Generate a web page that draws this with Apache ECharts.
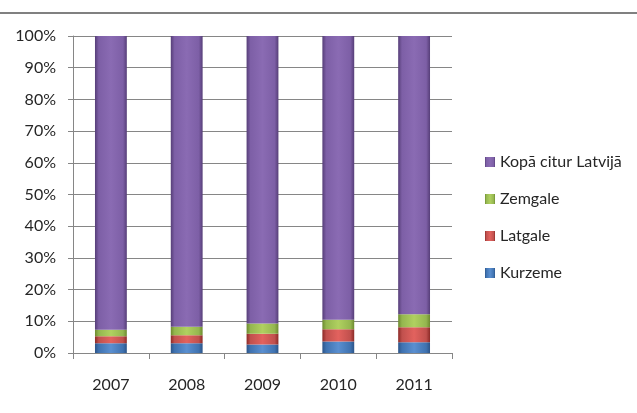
<!DOCTYPE html>
<html>
<head>
<meta charset="utf-8">
<script src="https://cdn.jsdelivr.net/npm/echarts@6/dist/echarts.min.js"></script>
<style>
    html, body {margin: 0; padding: 0; background: #fff;}
    #chart {width: 637px; height: 413px;}
</style>
</head>
<body>
<div id="chart"></div>
<script>
// data, shares in %
var years = ['2007', '2008', '2009', '2010', '2011'];
var kurzeme = [3.1, 3.1, 2.7, 3.6, 3.4];
var latgale = [2.2, 2.5, 3.4, 3.9, 4.7];
var zemgale = [2.0, 2.7, 3.2, 3.0, 4.1];
var citur = [92.7, 91.7, 90.7, 89.5, 87.8];
var yTicks = [0, 10, 20, 30, 40, 50, 60, 70, 80, 90, 100];

// bevel look: dark edges, light middle
function bevel(dark, mid, light) {
    return new echarts.graphic.LinearGradient(0, 0, 1, 0, [
        {offset: 0, color: dark},
        {offset: 0.12, color: mid},
        {offset: 0.5, color: light},
        {offset: 0.88, color: mid},
        {offset: 1, color: dark}
    ]);
}

var colors = {
    kurzeme: bevel('#2c5488', '#3f72b0', '#5a8fd0'),
    latgale: bevel('#8c2a27', '#c0504d', '#e2625e'),
    zemgale: bevel('#6d8a2f', '#94b64f', '#b0d060'),
    citur: bevel('#563e78', '#7d5fa6', '#8a6bb3')
};
var legendColors = ['#7d5fa6', '#94b64f', '#c0504d', '#3f72b0'];

function bar(name, data, color) {
    return {
        name: name,
        type: 'bar',
        stack: 'total',
        barWidth: '42%',
        data: data,
        itemStyle: {color: color},
        emphasis: {disabled: true}
    };
}

var mchart = echarts.init(document.getElementById('chart'));
var option = {
    animation: false,
    color: legendColors,
    textStyle: {fontFamily: 'Lato', color: '#262626'},
    grid: {left: 73, right: 185, top: 36, bottom: 60},
    legend: {
        orient: 'vertical',
        left: 480,
        top: 149,
        itemGap: 21,
        itemWidth: 10,
        itemHeight: 10,
        icon: 'rect',
        textStyle: {fontSize: 16, color: '#262626', fontFamily: 'Lato'},
        data: ['Kopā citur Latvijā', 'Zemgale', 'Latgale', 'Kurzeme']
    },
    xAxis: {
        type: 'category',
        data: years,
        axisLine: {lineStyle: {color: '#868686'}},
        axisTick: {show: true, length: 6, lineStyle: {color: '#868686'}},
        axisLabel: {fontSize: 16, color: '#262626', margin: 24}
    },
    yAxis: {
        type: 'value',
        min: yTicks[0],
        max: yTicks[yTicks.length - 1],
        interval: 10,
        axisLine: {show: true, lineStyle: {color: '#868686'}},
        axisTick: {show: true, inside: false, length: 5, lineStyle: {color: '#868686'}},
        splitLine: {lineStyle: {color: '#868686'}},
        axisLabel: {fontSize: 16, color: '#262626', margin: 17, formatter: '{value}%'}
    },
    graphic: [{
        type: 'line',
        shape: {x1: 0, y1: 13, x2: 637, y2: 13},
        style: {stroke: '#808080', lineWidth: 2}
    }],
    series: [
        bar('Kurzeme', kurzeme, colors.kurzeme),
        bar('Latgale', latgale, colors.latgale),
        bar('Zemgale', zemgale, colors.zemgale),
        bar('Kopā citur Latvijā', citur, colors.citur)
    ]
};
mchart.setOption(option);
</script>
</body>
</html>
